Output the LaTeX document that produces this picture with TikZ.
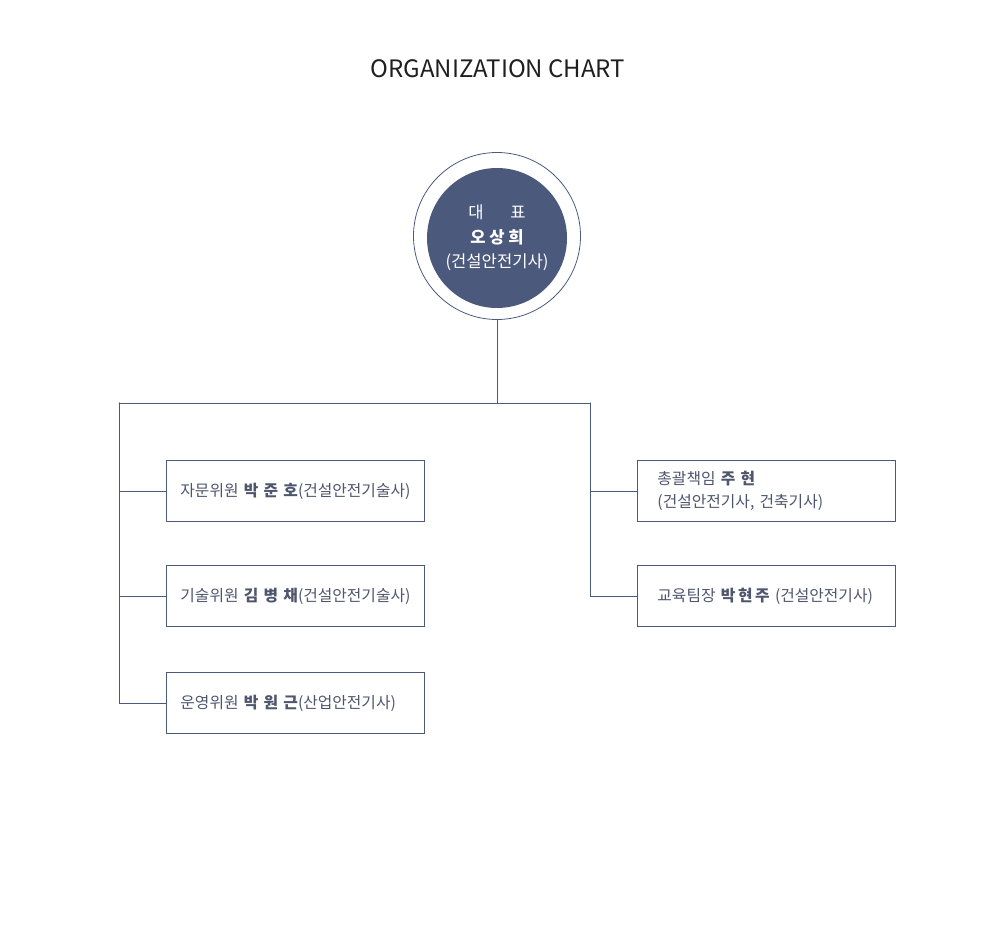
\documentclass[tikz,border=0pt]{standalone}
\usepackage{fontspec}
\setmainfont{Noto Sans CJK KR}
\usepackage{tikz}
\usetikzlibrary{positioning,calc}

\definecolor{navy}{RGB}{75,89,124}
\definecolor{txtgray}{RGB}{78,86,110}

\begin{document}
\begin{tikzpicture}[x=1pt,y=-1pt,line cap=round,
  link/.style={draw=navy,line width=0.9pt},
  member/.style={draw=navy,line width=0.9pt,minimum width=258pt,minimum height=61pt,
    inner xsep=14pt,text width=230pt,align=left,text=txtgray,font=\fontsize{15.8}{21}\selectfont},
  wide/.style={inner xsep=20pt,text width=218pt}]
\useasboundingbox (0,0) rectangle (1000,944);
% title
\node[font=\fontsize{24}{28}\selectfont,text=black!88] (title) at (498,69) {ORGANIZATION CHART};
% head
\node[circle,draw=navy,line width=0.8pt,minimum size=167pt,inner sep=0pt] (ceo) at (497,236) {};
\node[circle,fill=navy,minimum size=140pt,inner sep=0pt,text=white,align=center,
  font=\fontsize{16.6}{24.5}\selectfont] (ceoin) at ($(ceo)+(0,2)$) {대\hspace{1.6em}표\\\textbf{오 상 희}\\(건설안전기사)};
% bus
\coordinate (bus) at (497,403);
\coordinate (busL) at (119,403);
\coordinate (busR) at (590,403);
% left boxes
\node[member,anchor=west] (adv1) at (166,491) {자문위원 \textbf{박 준 호}(건설안전기술사)};
\node[member,anchor=west] (adv2) at (166,596) {기술위원 \textbf{김 병 채}(건설안전기술사)};
\node[member,anchor=west] (adv3) at (166,703) {운영위원 \textbf{박 원 근}(산업안전기사)};
% right boxes
\node[member,wide,anchor=west,font=\fontsize{15.8}{23}\selectfont] (chief) at (637,491) {총괄책임 \textbf{주 현}\\(건설안전기사, 건축기사)};
\node[member,wide,anchor=west] (edu) at (637,596) {\mbox{교육팀장 \textbf{박\,현\,주} (건설안전기사)}};
% connectors
\draw[link] (ceo) -- (bus);
\draw[link] (busL) -- (busR);
\foreach \b in {adv1,adv2,adv3}{\draw[link] (busL) |- (\b.west);}
\foreach \b in {chief,edu}{\draw[link] (busR) |- (\b.west);}
\end{tikzpicture}
\end{document}
